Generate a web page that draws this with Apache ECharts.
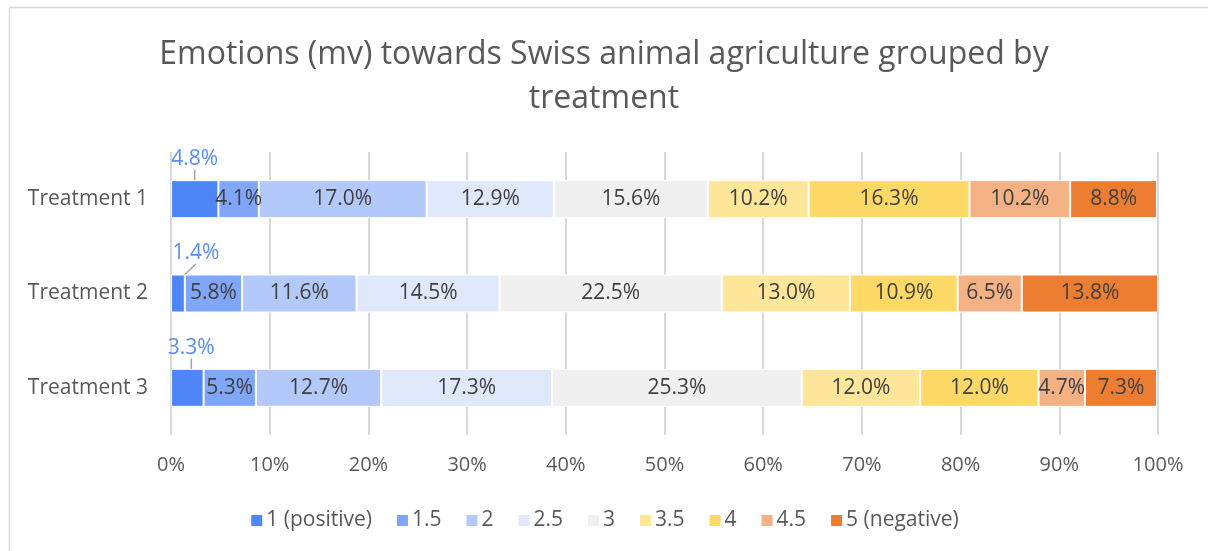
<!DOCTYPE html>
<html><head><meta charset="utf-8">
<script src="https://cdn.jsdelivr.net/npm/echarts@6/dist/echarts.min.js"></script>
<style>html,body{margin:0;padding:0;background:#fff}#c{width:1208px;height:551px}</style>
</head><body><div id="c"></div>
<script>
const categories = ['Treatment 1', 'Treatment 2', 'Treatment 3'];
const seriesNames = ['1 (positive)', '1.5', '2', '2.5', '3', '3.5', '4', '4.5', '5 (negative)'];
const s1 = [4.8, 1.4, 3.3];
const s15 = [4.1, 5.8, 5.3];
const s2 = [17.0, 11.6, 12.7];
const s25 = [12.9, 14.5, 17.3];
const s3 = [15.6, 22.5, 25.3];
const s35 = [10.2, 13.0, 12.0];
const s4 = [16.3, 10.9, 12.0];
const s45 = [10.2, 6.5, 4.7];
const s5 = [8.8, 13.8, 7.3];
const xTicks = [0, 10, 20, 30, 40, 50, 60, 70, 80, 90, 100];
const colors = ['#4F86F7', '#7FA6F8', '#B3C9F9', '#E0E9FB', '#F0F0F0', '#FFE699', '#FFD966', '#F4B183', '#ED7D31'];
const values = [s1, s15, s2, s25, s3, s35, s4, s45, s5];
const FONT = 'Open Sans';

const series = values.map((v, i) => {
  const s = {
    name: seriesNames[i], type: 'bar', stack: 'total', data: v,
    barWidth: 38,
    itemStyle: { color: colors[i], borderColor: '#fff', borderWidth: 1 },
    label: { show: true, position: 'inside', formatter: p => p.value.toFixed(1) + '%',
      color: '#404040', fontSize: 21, fontFamily: FONT }
  };
  if (i === 0) {
    s.label.color = '#5B8DF7';
    s.labelLine = { show: true, lineStyle: { color: '#A6A6A6', width: 1.5 } };
    s.labelLayout = p => ({ dy: -40, dx: p.dataIndex === 1 ? 18 : (p.dataIndex === 2 ? 4 : 0) });
  }
  return s;
});

const chart = echarts.init(document.getElementById('c'));
chart.setOption({
  animation: false,
  title: { text: 'Emotions (mv) towards Swiss animal agriculture grouped by\ntreatment',
    left: 'center', top: 28,
    textStyle: { fontFamily: FONT, fontSize: 32, fontWeight: 'normal', color: '#595959', lineHeight: 44 } },
  legend: { bottom: 15, left: 'center', itemWidth: 13, itemHeight: 13, itemGap: 23,
    icon: 'rect', data: seriesNames,
    textStyle: { fontFamily: FONT, fontSize: 21, color: '#595959', padding: [0, 0, 0, -2] } },
  grid: { left: 171, right: 50, top: 152, bottom: 116, containLabel: false },
  xAxis: { type: 'value', min: 0, max: 100, interval: 10,
    axisLabel: { formatter: v => xTicks.includes(v) ? v + '%' : '', fontFamily: FONT, fontSize: 20, color: '#595959', margin: 20 },
    splitLine: { show: true, lineStyle: { color: '#D9D9D9', width: 2 } },
    axisLine: { show: false }, axisTick: { show: false } },
  yAxis: { type: 'category', data: categories, inverse: true,
    axisLabel: { fontFamily: FONT, fontSize: 21, color: '#595959', margin: 23 },
    axisLine: { show: false }, axisTick: { show: false } },
  graphic: [
    { type: 'line', shape: { x1: 9.5, y1: 7.5, x2: 1208, y2: 7.5 }, style: { stroke: '#D9D9D9', lineWidth: 1.5 } },
    { type: 'line', shape: { x1: 9.5, y1: 7.5, x2: 9.5, y2: 551 }, style: { stroke: '#D9D9D9', lineWidth: 1.5 } }
  ],
  series: series
});
</script></body></html>
